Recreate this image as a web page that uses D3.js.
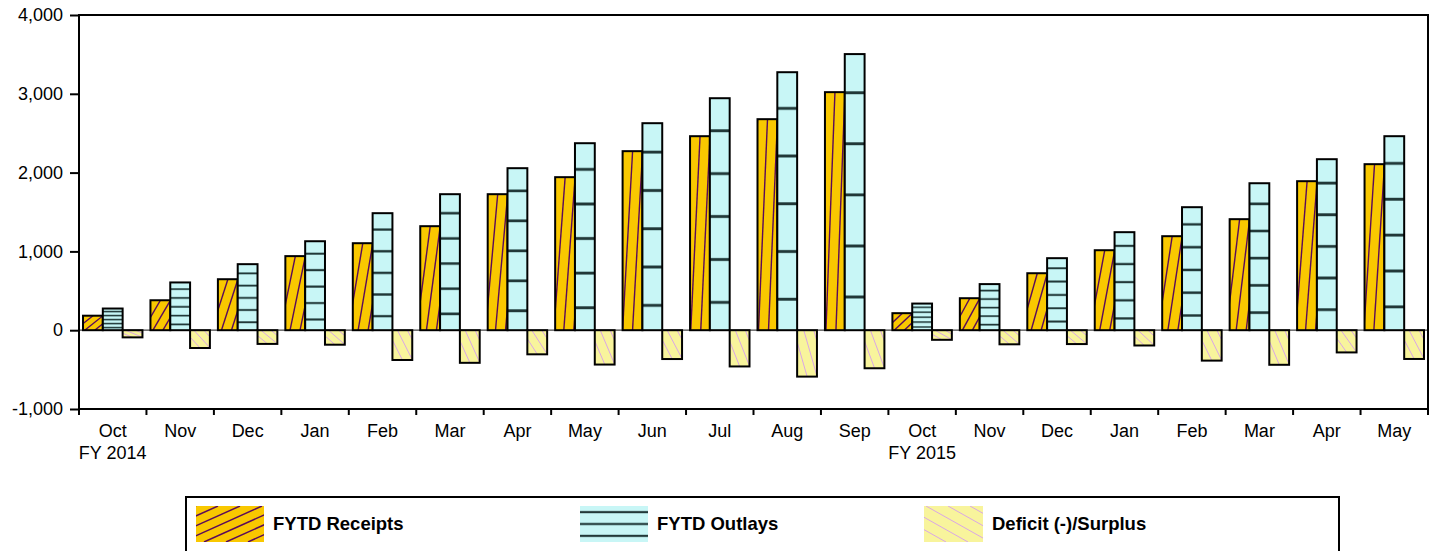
<!DOCTYPE html>
<html>
<head>
<meta charset="utf-8">
<script src="https://cdn.jsdelivr.net/npm/d3@7"></script>
<style>
  body { margin: 0; background: #fff; }
  svg { font-family: Arial, "Liberation Sans", sans-serif; }
</style>
</head>
<body>
<svg class="canvas" width="1441" height="551"></svg>
<script>
// data (billions of dollars, fiscal year to date)
const months = ["Oct", "Nov", "Dec", "Jan", "Feb", "Mar", "Apr", "May", "Jun", "Jul", "Aug", "Sep",
  "Oct", "Nov", "Dec", "Jan", "Feb", "Mar", "Apr", "May"];
const fyLabels = ["FY 2014", "", "", "", "", "", "", "", "", "", "", "",
  "FY 2015", "", "", "", "", "", "", ""];
const receipts = [184, 380, 647, 940, 1104, 1320, 1726, 1942, 2272, 2462, 2678, 3021,
  216, 406, 723, 1015, 1193, 1409, 1891, 2107];
const outlays = [275, 606, 838, 1129, 1485, 1726, 2056, 2373, 2627, 2944, 3274, 3504,
  338, 585, 914, 1244, 1561, 1865, 2170, 2462];
const deficit = [-91, -226, -174, -184, -378, -414, -306, -436, -366, -460, -589, -483,
  -122, -179, -176, -194, -386, -439, -282, -365];
const yTicks = [-1000, 0, 1000, 2000, 3000, 4000];
const seriesNames = ["FYTD Receipts", "FYTD Outlays", "Deficit (-)/Surplus"];

const svg = d3.select(".canvas");
const plot = { left: 79, right: 1428, top: 15, bottom: 409 };

const idx = months.map((d, i) => i);
const x0 = d3.scaleBand().domain(idx).range([plot.left, plot.right]).padding(0);
const x1 = d3.scaleBand().domain([0, 1, 2]).range([4, x0.bandwidth() - 4]).padding(0);
const y = d3.scaleLinear().domain([-1000, 4000]).range([plot.bottom, plot.top]);

const defs = svg.append("defs");
let clipId = 0;

// diagonal hatching: dir 1 = up to the right, -1 = down to the right
function diagHatch(g, bx, by, w, h, dx, step, color, width, dir) {
  for (let x = bx - dx - step; x < bx + w + step; x += step) {
    g.append("line")
      .attr("x1", x).attr("y1", dir > 0 ? by + h : by)
      .attr("x2", x + dx).attr("y2", dir > 0 ? by : by + h)
      .attr("stroke", color).attr("stroke-width", width);
  }
}

function horizHatch(g, bx, by, w, h, fracs, width) {
  fracs.forEach((f) => {
    const yy = by + h - f * h;
    g.append("line").attr("x1", bx).attr("x2", bx + w).attr("y1", yy).attr("y2", yy)
      .attr("stroke", "#7fa8a8").attr("stroke-width", width + 1.2);
    g.append("line").attr("x1", bx).attr("x2", bx + w).attr("y1", yy).attr("y2", yy)
      .attr("stroke", "#223838").attr("stroke-width", width);
  });
}

const fills = ["#f9c800", "#c8f6f6", "#f8f49c"];

function drawBox(parent, bx, by, w, h, s, legend) {
  const id = "clip" + clipId++;
  defs.append("clipPath").attr("id", id)
    .append("rect").attr("x", bx).attr("y", by).attr("width", w).attr("height", h);
  const g = parent.append("g");
  g.append("rect").attr("x", bx).attr("y", by).attr("width", w).attr("height", h)
    .attr("fill", fills[s]);
  const hg = g.append("g").attr("clip-path", `url(#${id})`);
  if (s === 0) {
    if (legend) diagHatch(hg, bx, by, w, h, 80, 22, "#5a0a5a", 1.5, 1);
    else diagHatch(hg, bx, by, w, h, Math.max(9, 19 - h * 0.05), 10, "#5a0a5a", 1.4, 1);
  } else if (s === 1) {
    if (legend) horizHatch(hg, bx, by, w, h, [0.17, 0.5, 0.83], 1.6);
    else horizHatch(hg, bx, by, w, h, [0.12, 0.305, 0.49, 0.675, 0.86],
      Math.min(2.4, 0.8 + h / 110));
  } else {
    if (legend) diagHatch(hg, bx, by, w, h, 64, 22, "#d9a6e6", 1, -1);
    else diagHatch(hg, bx, by, w, h, Math.max(9, 18 - h * 0.1), 10, "#d9a6e6", 1, -1);
  }
  if (!legend) {
    g.append("rect").attr("x", bx).attr("y", by).attr("width", w).attr("height", h)
      .attr("fill", "none").attr("stroke", "#000").attr("stroke-width", 2);
  }
}

// zero line
svg.append("line")
  .attr("x1", plot.left).attr("x2", plot.right)
  .attr("y1", y(0)).attr("y2", y(0))
  .attr("stroke", "#444").attr("stroke-width", 1.2);

// bars
const bars = svg.append("g");
const series = [receipts, outlays, deficit];
idx.forEach((i) => {
  series.forEach((vals, s) => {
    const v = vals[i];
    const bx = x0(i) + x1(s);
    const top = y(Math.max(0, v));
    const h = Math.abs(y(v) - y(0));
    drawBox(bars, bx, top, x1.bandwidth(), h, s, false);
  });
});

// frame
svg.append("rect")
  .attr("x", plot.left).attr("y", plot.top)
  .attr("width", plot.right - plot.left).attr("height", plot.bottom - plot.top)
  .attr("fill", "none").attr("stroke", "#000").attr("stroke-width", 2);

// y axis
const yAxis = d3.axisLeft(y)
  .tickValues(yTicks)
  .tickSize(9)
  .tickPadding(7)
  .tickFormat((d) => d3.format(",")(d).replace("\u2212", "-"));
const yAxisGroup = svg.append("g").attr("transform", `translate(${plot.left},0)`).call(yAxis);
yAxisGroup.select(".domain").remove();
yAxisGroup.selectAll("line").attr("stroke", "#000").attr("stroke-width", 2);
yAxisGroup.selectAll("text").attr("font-size", 18).attr("fill", "#000")
  .attr("font-family", "Arial, 'Liberation Sans', sans-serif");

// x axis: boundary ticks plus centred labels
const bounds = idx.map((i) => x0(i)).concat([plot.right]);
svg.append("g").selectAll("line").data(bounds).enter().append("line")
  .attr("x1", (d) => d).attr("x2", (d) => d)
  .attr("y1", plot.bottom).attr("y2", plot.bottom + 6)
  .attr("stroke", "#000").attr("stroke-width", 2);

const xAxis = d3.axisBottom(x0).tickSize(0).tickPadding(0).tickFormat((i) => months[i]);
const xAxisGroup = svg.append("g").attr("transform", `translate(0,${plot.bottom})`).call(xAxis);
xAxisGroup.select(".domain").remove();
xAxisGroup.selectAll("text")
  .attr("font-size", 18).attr("fill", "#000").attr("dy", null).attr("y", 28)
  .attr("font-family", "Arial, 'Liberation Sans', sans-serif");
xAxisGroup.selectAll(".tick").filter((i) => fyLabels[i] !== "")
  .append("text")
  .attr("y", 50).attr("fill", "#000").attr("font-size", 18)
  .attr("font-family", "Arial, 'Liberation Sans', sans-serif")
  .attr("text-anchor", "middle")
  .text((i) => fyLabels[i]);

// legend
const legend = svg.append("g");
legend.append("rect")
  .attr("x", 186).attr("y", 497).attr("width", 1153).attr("height", 70)
  .attr("fill", "#fff").attr("stroke", "#000").attr("stroke-width", 2);
const legendX = [196, 580, 924];
const swatchW = [68, 68, 59];
seriesNames.forEach((name, s) => {
  drawBox(legend, legendX[s], 506, swatchW[s], 36, s, true);
  legend.append("text")
    .attr("x", legendX[s] + swatchW[s] + 9).attr("y", 530)
    .attr("font-size", 18.5).attr("font-weight", "bold").attr("fill", "#000")
    .text(name);
});
</script>
</body>
</html>
